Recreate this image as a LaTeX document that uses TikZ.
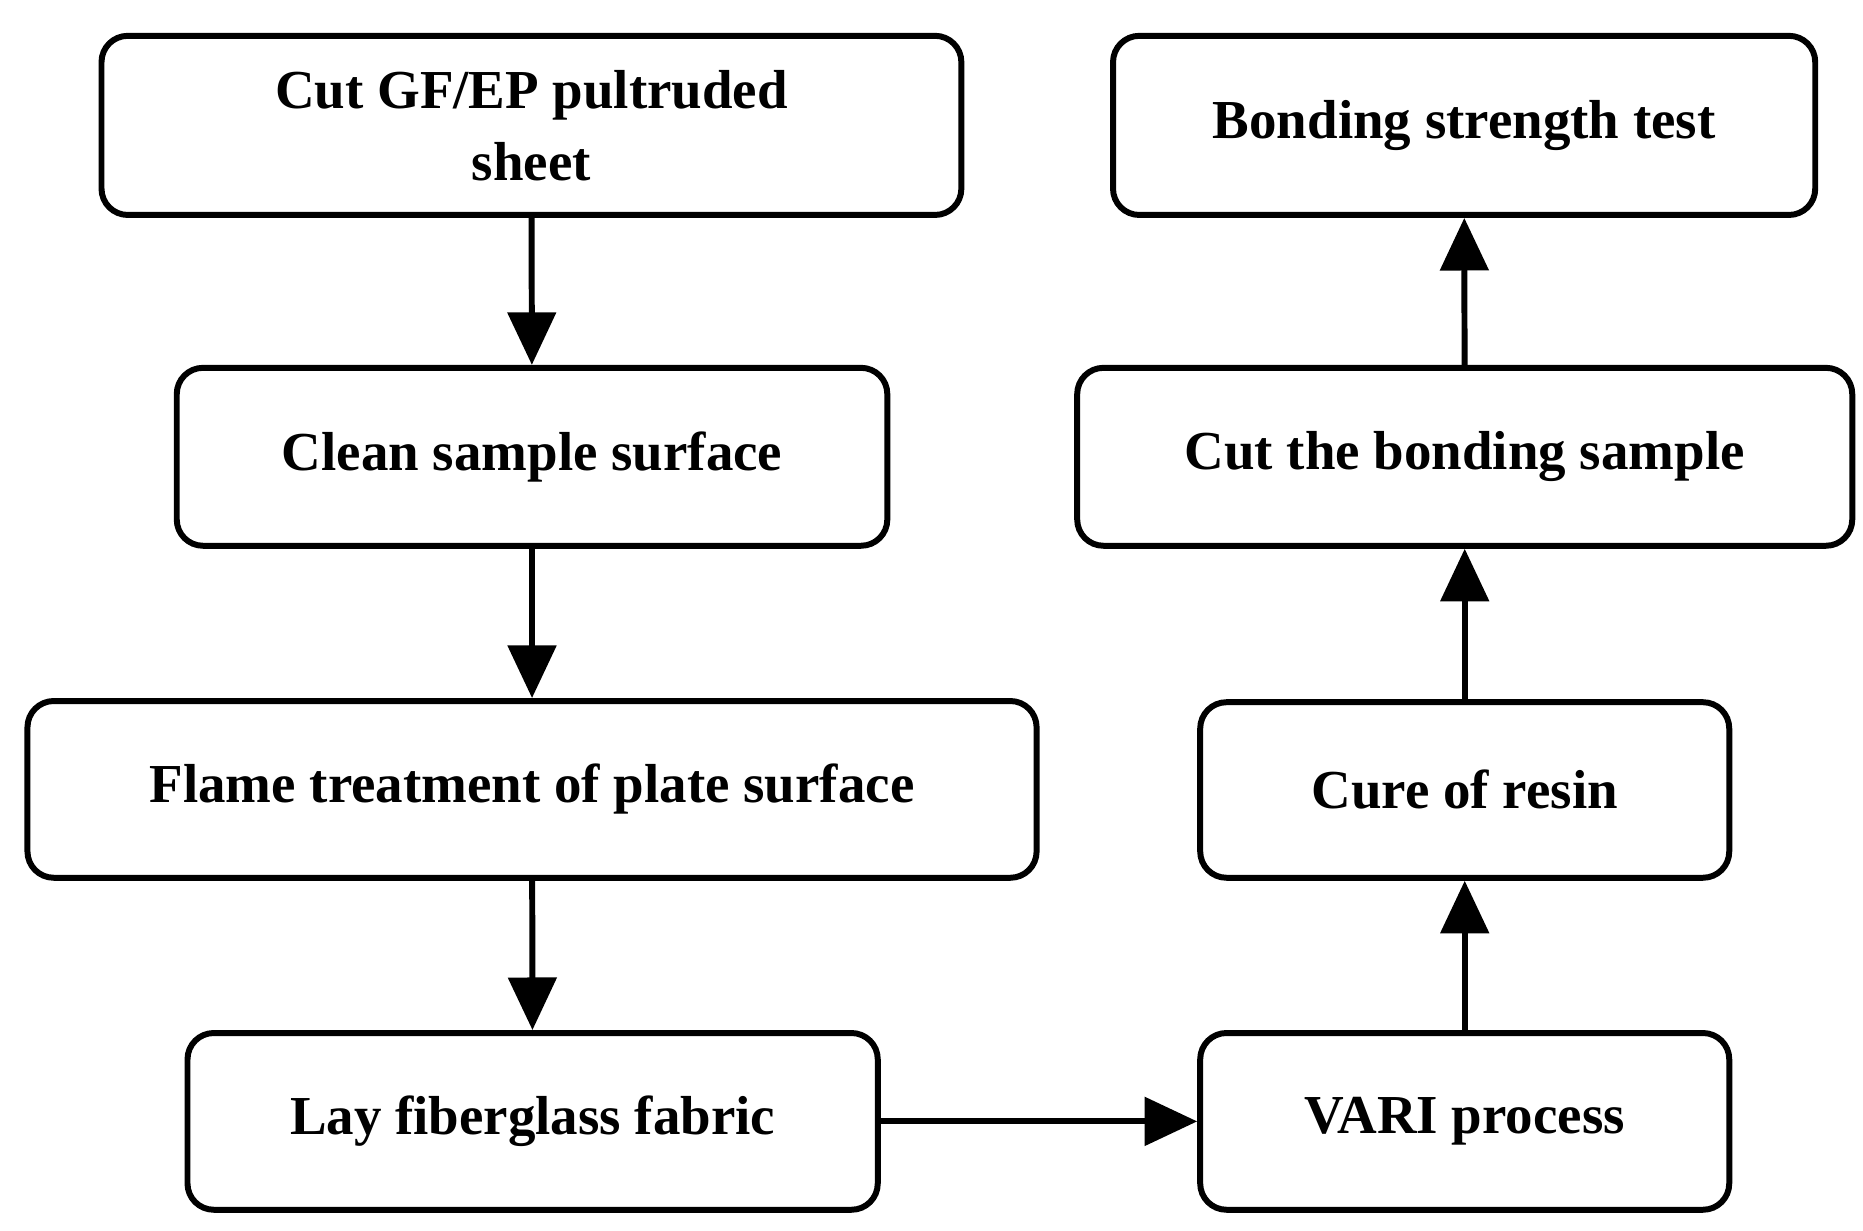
\documentclass[tikz,border=0pt]{standalone}
\usepackage{fontspec}
\setmainfont{Liberation Serif}
\usetikzlibrary{arrows.meta}
\begin{document}
\begin{tikzpicture}[x=1pt,y=-1pt,
 box/.style={draw,line width=5pt,rounded corners=22pt,align=center,font=\fontsize{46}{60}\selectfont\bfseries,inner sep=0pt},
 arr/.style={line width=5pt,-{Triangle[length=44pt,width=40pt]}}]
\useasboundingbox (0,0) rectangle (1560,1030);
\node[box,minimum width=720pt,minimum height=150pt] (a) at (445,105) {Cut GF/EP pultruded\\sheet};
\node[box,minimum width=595pt,minimum height=149pt] (b) at (445.5,382.5) {Clean sample surface};
\node[box,minimum width=845pt,minimum height=148pt] (c) at (445.5,661) {Flame treatment of plate surface};
\node[box,minimum width=578pt,minimum height=148pt] (d) at (446,939) {Lay fiberglass fabric};
\node[box,minimum width=443pt,minimum height=148pt] (e) at (1226.5,939) {VARI process};
\node[box,minimum width=443pt,minimum height=147pt] (f) at (1226.5,661.5) {Cure of resin};
\node[box,minimum width=649pt,minimum height=149pt] (g) at (1226.5,382.5) {Cut the bonding sample};
\node[box,minimum width=588pt,minimum height=150pt] (h) at (1226,105) {Bonding strength test};
\draw[arr] (a) -- (b);
\draw[arr] (b) -- (c);
\draw[arr] (c) -- (d);
\draw[arr] (d) -- (e);
\draw[arr] (e) -- (f);
\draw[arr] (f) -- (g);
\draw[arr] (g) -- (h);
\end{tikzpicture}
\end{document}
